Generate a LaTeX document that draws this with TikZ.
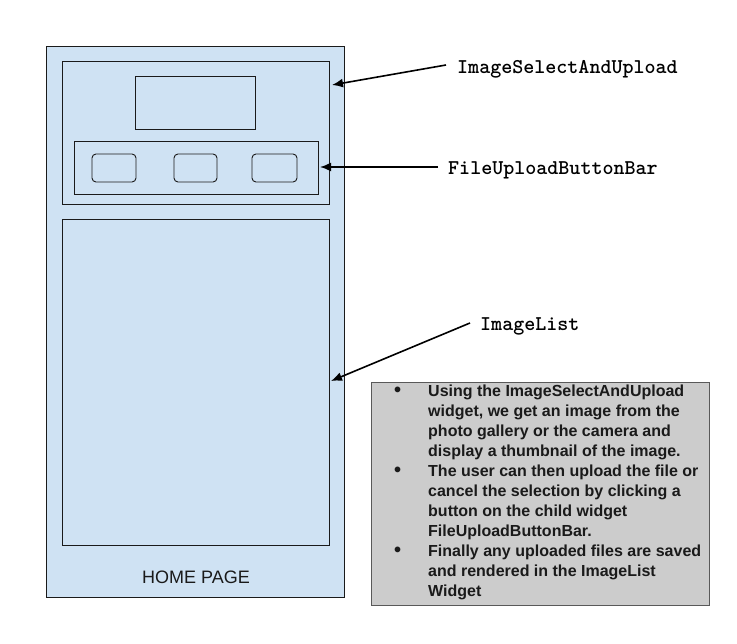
\documentclass[tikz,border=0pt]{standalone}
\usepackage{fontspec}
\setmainfont{Liberation Sans}
\usetikzlibrary{arrows.meta}
\definecolor{paleblue}{HTML}{CFE2F3}
\definecolor{notegray}{HTML}{CCCCCC}
\definecolor{noteborder}{HTML}{595959}
\definecolor{ink}{HTML}{1A1A1A}
\newcommand{\blt}{{\fontsize{20}{20}\selectfont\textbullet}}
\tikzset{
  box/.style={draw=ink, line width=0.9pt},
  btn/.style={draw=ink, line width=0.9pt, rounded corners=4pt},
  pointer/.style={draw=black, line width=1.6pt, -{Latex[length=11pt,width=9pt]}},
  lbl/.style={inner sep=0pt, anchor=base west, font=\ttfamily\bfseries\fontsize{21}{22}\selectfont},
}
\begin{document}
\begin{tikzpicture}[x=1pt,y=-1pt]
\useasboundingbox (0,0) rectangle (737,644);
% outer page
\draw[box, fill=paleblue] (46,46) rectangle (344,597);
\node[font=\fontsize{18}{20}\selectfont, text=ink, inner sep=0pt, anchor=base] (home) at (196,583) {HOME PAGE};
% ImageSelectAndUpload
\draw[box] (62,61) rectangle (329,204);
\draw[box] (135,76) rectangle (255,129);
\draw[box] (74,141) rectangle (318,194);
\draw[btn] (92,154) rectangle (136,182);
\draw[btn] (174,154) rectangle (217,182);
\draw[btn] (252,154) rectangle (297,182);
% ImageList
\draw[box] (62,219) rectangle (329,545);
% labels
\node[lbl] (l1) at (457,74) {ImageSelectAndUpload};
\node[lbl] (l2) at (448,175) {FileUploadButtonBar};
\node[lbl] (l3) at (480,331) {ImageList};
\coordinate (s1) at (446,65);
\coordinate (e1) at (332,85);
\coordinate (s2) at (438,167);
\coordinate (e2) at (320,167);
\coordinate (s3) at (470,323);
\coordinate (e3) at (331,381);
\draw[pointer] (s1) -- (e1);
\draw[pointer] (s2) -- (e2);
\draw[pointer] (s3) -- (e3);
% note
\draw[draw=noteborder, line width=0.9pt, fill=notegray] (371,382) rectangle (709,605);
\node[inner sep=0pt, anchor=base west, font=\bfseries\fontsize{16}{20}\selectfont, text=ink] (note) at (394,397) {%
\setlength{\tabcolsep}{0pt}\renewcommand{\arraystretch}{1}%
\begin{tabular}[t]{@{}p{34pt}@{}l@{}}
\blt & Using the ImageSelectAndUpload\\
 & widget, we get an image from the\\
 & photo gallery or the camera and\\
 & display a thumbnail of the image.\\
\blt & The user can then upload the file or\\
 & cancel the selection by clicking a\\
 & button on the child widget\\
 & FileUploadButtonBar.\\
\blt & Finally any uploaded files are saved\\
 & and rendered in the ImageList\\
 & Widget
\end{tabular}};
\end{tikzpicture}
\end{document}
